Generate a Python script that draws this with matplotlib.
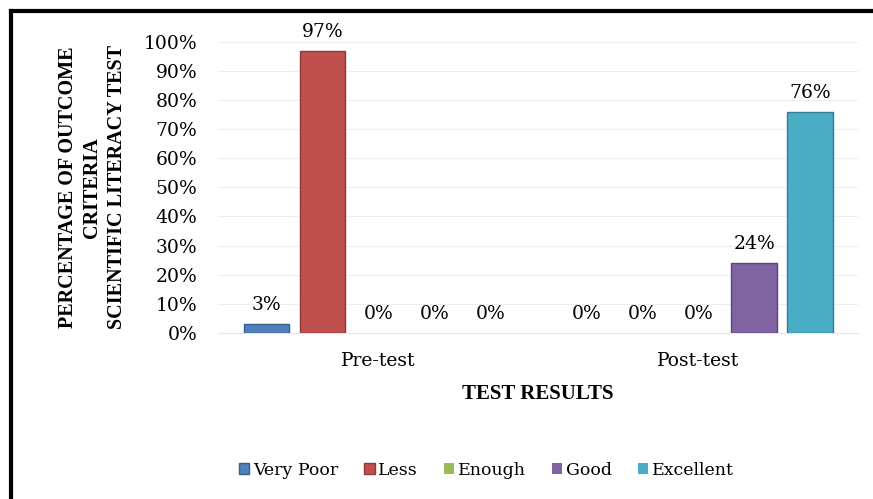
import numpy as np
import matplotlib.pyplot as plt
from matplotlib.lines import Line2D

# Dados do gráfico
categorias = ["Pre-test", "Post-test"]
series = ["Very Poor", "Less", "Enough", "Good", "Excellent"]
very_poor = [3, 0]
less = [97, 0]
enough = [0, 0]
good = [0, 24]
excellent = [0, 76]
cores = ["#4F81BD", "#C0504D", "#9BBB59", "#8064A2", "#4BACC6"]
bordas = ["#385D8A", "#8C3836", "#71893F", "#5C4776", "#357D91"]

fonte = ['DejaVu Serif']
fonte_negrito = ['Liberation Serif', 'DejaVu Serif']
plt.rcParams['font.family'] = fonte

fig = plt.figure(figsize=(8.73, 4.99), dpi=100)
ax = fig.add_axes([0.25, 0.333, 0.733, 0.583])

valores = [very_poor, less, enough, good, excellent]
x = np.arange(len(categorias))
passo = 0.175
largura = 0.142

for i, (nome, vals) in enumerate(zip(series, valores)):
    pos = x + (i - 2) * passo
    lw = [1.0 if v > 0 else 0 for v in vals]
    ax.bar(pos, vals, largura, color=cores[i], edgecolor=bordas[i],
           linewidth=lw, label=nome, zorder=3)
    for xb, v in zip(pos, vals):
        ax.annotate(f"{v}%", (xb, v), xytext=(0, 7), textcoords="offset points",
                    ha="center", va="bottom", fontsize=13.5)

ax.set_xlim(-0.5, 1.5)
ax.set_ylim(0, 100)
ax.set_yticks(np.arange(0, 101, 10))
ax.set_yticklabels([f"{t}%" for t in range(0, 101, 10)], fontsize=13.5)
ax.set_xticks(x)
ax.set_xticklabels(categorias, fontsize=13.5)
ax.tick_params(length=0, pad=14)
ax.tick_params(axis="y", pad=15)
ax.grid(axis="y", color="#EEEEEE", linewidth=0.8, zorder=0)
for s in ["top", "right", "left"]:
    ax.spines[s].set_visible(False)
ax.spines["bottom"].set_color("#E6E6E6")

ax.set_xlabel("TEST RESULTS", fontsize=15, fontweight="bold", labelpad=10,
              family=fonte_negrito)
ax.set_ylabel("PERCENTAGE OF OUTCOME\nCRITERIA\nSCIENTIFIC LITERACY TEST",
              fontsize=14.5, fontweight="bold", linespacing=1.3,
              family=fonte_negrito)
ax.yaxis.set_label_coords(-0.143, 0.5)

ax.legend(loc="center", bbox_to_anchor=(0.557, 0.058), bbox_transform=fig.transFigure,
          ncol=5, frameon=False, fontsize=12.5, handlelength=0.6, handleheight=0.6,
          handletextpad=0.2, columnspacing=1.5)

# moldura preta (topo e esquerda)
fig.add_artist(Line2D([0.0125, 1.0], [0.978, 0.978], color="black", linewidth=3,
                      transform=fig.transFigure))
fig.add_artist(Line2D([0.0125, 0.0125], [0.0, 0.978], color="black", linewidth=3,
                      transform=fig.transFigure))

fig.savefig("out.png", dpi=100)
